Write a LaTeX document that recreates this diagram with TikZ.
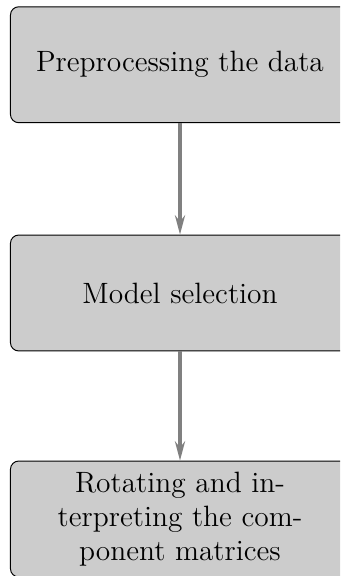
\documentclass[tikz,border=0pt]{standalone}
\usetikzlibrary{arrows.meta}
\begin{document}
\begin{tikzpicture}[x=0.415pt,y=-0.415pt,
  module/.style={draw=black, line width=0.4pt, fill=black!20, rounded corners=3.4pt,
    minimum width=140.7pt, minimum height=48.1pt, inner sep=0pt,
    font=\fontsize{12.2pt}{14pt}\selectfont, align=center},
  flow/.style={draw=gray, line width=1.3pt, -{Stealth[length=8pt,width=4.2pt]}}]
\clip (0,0) rectangle (340,576);
\useasboundingbox (0,0) rectangle (340,576);
\node[module] (a) at (180,64.75) {Preprocessing the data};
\node[module] (b) at (180,293) {Model selection};
\node[module] (c) at (180,519) {Rotating and in-\\terpreting the com-\\ponent matrices};
\draw[flow] (a) -- (b);
\draw[flow] (b) -- (c);
\end{tikzpicture}
\end{document}
